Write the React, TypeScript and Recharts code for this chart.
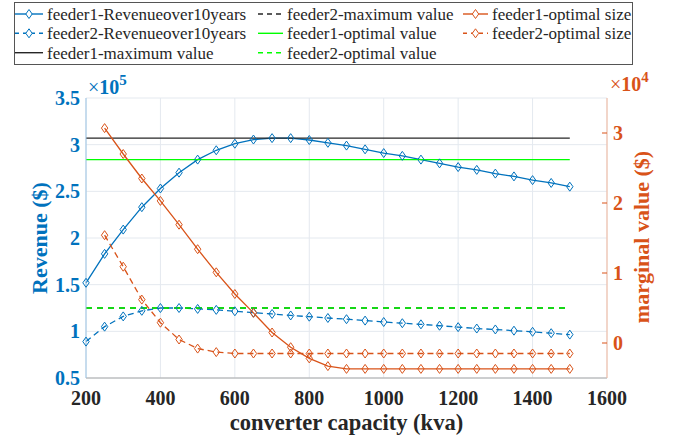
import React from 'react';
import {
  ComposedChart,
  Line,
  XAxis,
  YAxis,
  CartesianGrid,
  Legend,
  Label,
} from 'recharts';

const FONT = '"Liberation Serif", "Times New Roman", serif';
const BLUE = '#0072BD';
const ORANGE = '#D95319';
const GREEN = '#00FF00';
const DARK = '#262626';

// converter capacity (kva)
const capacity = [
  200, 250, 300, 350, 400, 450, 500, 550, 600, 650, 700, 750, 800, 850,
  900, 950, 1000, 1050, 1100, 1150, 1200, 1250, 1300, 1350, 1400, 1450, 1500,
];

// revenue over 10 years ($), left axis
const feeder1Revenue = [
  152000, 183000, 209000, 233000, 253000, 270000, 284000, 294000, 301000,
  305500, 307000, 307000, 305000, 302000, 299000, 295000, 291000, 288000,
  284000, 280000, 276000, 273000, 269000, 266000, 262000, 259000, 255000,
];
const feeder2Revenue = [
  89000, 105000, 116000, 122000, 125000, 125000, 124000, 123000, 121500,
  120000, 118600, 117000, 115700, 114300, 113000, 111500, 110000, 108700,
  107500, 106000, 104500, 103000, 102000, 100700, 99500, 98000, 96500,
];

// marginal value ($), right axis
const feeder1Size = [
  null, 30700, 27000, 23500, 20300, 16900, 13400, 10100, 7000, 4300, 1500,
  -600, -2200, -3300, -3700, -3700, -3700, -3700, -3700, -3700, -3700,
  -3700, -3700, -3700, -3700, -3700, -3700,
];
const feeder2Size = [
  null, 15400, 10900, 6200, 2900, 500, -800, -1300, -1500, -1500, -1500,
  -1500, -1500, -1500, -1500, -1500, -1500, -1500, -1500, -1500, -1500,
  -1500, -1500, -1500, -1500, -1500, -1500,
];

const feeder1MaxValue = 307000;
const feeder2MaxValue = 125000;
const feeder1OptValue = 284000;
const feeder2OptValue = 125000;

const xTicks = [200, 400, 600, 800, 1000, 1200, 1400, 1600];
const leftTicks = [50000, 100000, 150000, 200000, 250000, 300000, 350000];
const rightTicks = [0, 10000, 20000, 30000];

const data = capacity.map((kva, i) => ({
  kva,
  rev1: feeder1Revenue[i],
  rev2: feeder2Revenue[i],
  max1: feeder1MaxValue,
  max2: feeder2MaxValue,
  opt1: feeder1OptValue,
  opt2: feeder2OptValue,
  size1: feeder1Size[i],
  size2: feeder2Size[i],
}));

function diamondPath(cx: number, cy: number) {
  return `M${cx},${cy - 4.5}L${cx + 3.2},${cy}L${cx},${cy + 4.5}L${cx - 3.2},${cy}Z`;
}

function diamondDot(color: string) {
  return (props: any) => {
    const { cx, cy, index, value } = props;
    if (cx == null || cy == null || value == null) return <g key={`e${index}`} />;
    return (
      <path
        key={`d${index}`}
        d={diamondPath(cx, cy)}
        fill="none"
        stroke={color}
        strokeWidth={1}
      />
    );
  };
}

const legendItems = [
  { label: 'feeder1-Revenueover10years', color: BLUE, dash: '', marker: true },
  { label: 'feeder2-Revenueover10years', color: BLUE, dash: '4 4', marker: true },
  { label: 'feeder1-maximum value', color: DARK, dash: '', marker: false },
  { label: 'feeder2-maximum value', color: DARK, dash: '5 4', marker: false },
  { label: 'feeder1-optimal value', color: GREEN, dash: '', marker: false },
  { label: 'feeder2-optimal value', color: GREEN, dash: '5 4', marker: false },
  { label: 'feeder1-optimal size', color: ORANGE, dash: '', marker: true },
  { label: 'feeder2-optimal size', color: ORANGE, dash: '4 4', marker: true },
];

const colIcon = [
  [1, 29],
  [244, 269],
  [449, 474],
];
const colText = [33, 273, 478];
const rowY = [12, 31.3, 50.7];

function LegendBox() {
  return (
    <svg
      width={624}
      height={64}
      style={{ display: 'block', fontFamily: FONT, overflow: 'visible' }}
    >
      <rect x={0.5} y={0.5} width={618} height={62} fill="#fff" stroke="#555" strokeWidth={1} />
      {legendItems.map((it, i) => {
        const col = Math.floor(i / 3);
        const row = i % 3;
        const [a, b] = colIcon[col];
        const y = rowY[row];
        return (
          <g key={it.label}>
            <line
              x1={a}
              x2={b}
              y1={y}
              y2={y}
              stroke={it.color}
              strokeWidth={1.4}
              strokeDasharray={it.dash || undefined}
            />
            {it.marker && (
              <path d={diamondPath((a + b) / 2, y)} fill="#fff" stroke={it.color} strokeWidth={1} />
            )}
            <text
              x={colText[col]}
              y={y + 6}
              style={{ fontFamily: FONT, fontSize: 17 }}
              fill={DARK}
            >
              {it.label}
            </text>
          </g>
        );
      })}
    </svg>
  );
}

export default function App() {
  return (
    <div style={{ position: 'absolute', left: 0, top: 0, background: '#fff' }}>
      <ComposedChart
        width={684}
        height={437}
        data={data}
        margin={{ top: 98, right: 0, bottom: 0, left: 0 }}
      >
        <CartesianGrid yAxisId="left" stroke="#e4e9ef" strokeWidth={1} />
        <XAxis
          dataKey="kva"
          type="number"
          domain={[200, 1600]}
          ticks={xTicks}
          height={59}
          stroke="#a8a8a8"
          tickSize={0}
          tickMargin={13}
          tick={{ fill: DARK, fontSize: 20, fontWeight: 700, fontFamily: FONT }}
        >
          <Label
            content={() => (
              <text
                x={346.5}
                y={430}
                textAnchor="middle"
                fontFamily={FONT}
                fontSize={22.5}
                fontWeight={700}
                fill={DARK}
              >
                converter capacity (kva)
              </text>
            )}
          />
        </XAxis>
        <YAxis
          yAxisId="left"
          orientation="left"
          width={86}
          domain={[50000, 350000]}
          ticks={leftTicks}
          stroke="#9cc4e4"
          tickSize={0}
          tickMargin={6}
          tickFormatter={(v: number) => String(v / 100000)}
          tick={{ fill: BLUE, fontSize: 20, fontWeight: 700, fontFamily: FONT }}
        >
          <Label
            content={() => (
              <g>
                <text
                  x={47}
                  y={238}
                  transform="rotate(-90 47 238)"
                  textAnchor="middle"
                  fontFamily={FONT}
                  fontSize={22}
                  fontWeight={700}
                  fill={BLUE}
                >
                  Revenue ($)
                </text>
                <text x={88} y={94} fontFamily={FONT} fontSize={20} fill={BLUE}>
                  ×<tspan fontWeight={700}>10</tspan>
                  <tspan dy={-9} fontSize={15} fontWeight={700}>5</tspan>
                </text>
              </g>
            )}
          />
        </YAxis>
        <YAxis
          yAxisId="right"
          orientation="right"
          width={77}
          domain={[-5000, 35000]}
          ticks={rightTicks}
          stroke="#f3b79c"
          tickSize={-5}
          tickMargin={11}
          tickLine={{ stroke: ORANGE }}
          tickFormatter={(v: number) => String(v / 10000)}
          tick={{ fill: ORANGE, fontSize: 20, fontWeight: 700, fontFamily: FONT }}
        >
          <Label
            content={() => (
              <g>
                <text
                  x={649}
                  y={237}
                  transform="rotate(-90 649 237)"
                  textAnchor="middle"
                  fontFamily={FONT}
                  fontSize={22}
                  fontWeight={700}
                  fill={ORANGE}
                >
                  marginal value ($)
                </text>
                <text x={610} y={91} fontFamily={FONT} fontSize={20} fill={ORANGE}>
                  ×<tspan fontWeight={700}>10</tspan>
                  <tspan dy={-9} fontSize={15} fontWeight={700}>4</tspan>
                </text>
              </g>
            )}
          />
        </YAxis>
        <Legend
          verticalAlign="middle"
          layout="horizontal"
          wrapperStyle={{ top: 2, left: 14, width: 624, height: 64, fontFamily: FONT }}
          content={() => <LegendBox />}
        />
        <Line
          yAxisId="left"
          dataKey="rev1"
          stroke={BLUE}
          strokeWidth={1.3}
          dot={diamondDot(BLUE)}
          isAnimationActive={false}
        />
        <Line
          yAxisId="left"
          dataKey="rev2"
          stroke={BLUE}
          strokeWidth={1.3}
          strokeDasharray="6 4"
          dot={diamondDot(BLUE)}
          isAnimationActive={false}
        />
        <Line
          yAxisId="left"
          dataKey="max1"
          stroke={DARK}
          strokeWidth={1.4}
          dot={false}
          isAnimationActive={false}
        />
        <Line
          yAxisId="left"
          dataKey="max2"
          stroke={DARK}
          strokeWidth={1.4}
          strokeDasharray="6 5"
          dot={false}
          isAnimationActive={false}
        />
        <Line
          yAxisId="left"
          dataKey="opt1"
          stroke={GREEN}
          strokeWidth={1.4}
          dot={false}
          isAnimationActive={false}
        />
        <Line
          yAxisId="left"
          dataKey="opt2"
          stroke={GREEN}
          strokeWidth={1.6}
          strokeDasharray="6 5"
          dot={false}
          isAnimationActive={false}
        />
        <Line
          yAxisId="right"
          dataKey="size1"
          stroke={ORANGE}
          strokeWidth={1.3}
          dot={diamondDot(ORANGE)}
          connectNulls={false}
          isAnimationActive={false}
        />
        <Line
          yAxisId="right"
          dataKey="size2"
          stroke={ORANGE}
          strokeWidth={1.3}
          strokeDasharray="6 4"
          dot={diamondDot(ORANGE)}
          connectNulls={false}
          isAnimationActive={false}
        />
      </ComposedChart>
    </div>
  );
}
